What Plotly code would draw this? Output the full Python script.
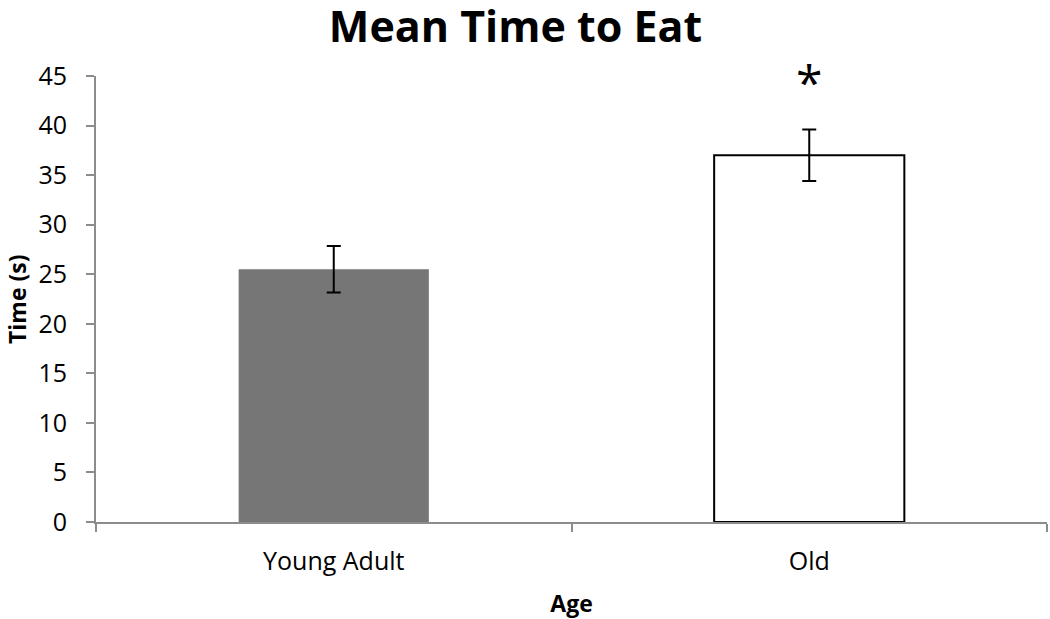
import plotly.graph_objects as go

categories = ["Young Adult", "Old"]
means = [25.5, 37.0]
errors = [2.35, 2.6]
fill_colors = ["#767676", "#ffffff"]
line_colors = ["#767676", "#000000"]
sig_label = "*"
sig_y = 44.4
x_title = "Age"
y_title = "Time (s)"
chart_title = "Mean Time to Eat"

FONT = "'Open Sans', sans-serif"

fig = go.Figure()
fig.add_trace(go.Bar(
    x=categories, y=means,
    width=0.4,
    marker=dict(color=fill_colors, line=dict(color=line_colors, width=[0, 2])),
    error_y=dict(type="data", array=errors, color="black", thickness=2, width=7),
    showlegend=False,
))
fig.add_annotation(x=categories[1], y=sig_y, text=sig_label, showarrow=False,
                   font=dict(size=48, color="black", family=FONT), yanchor="middle")
# y-axis title placed as rotated annotation for exact placement
fig.add_annotation(xref="paper", yref="paper", x=0, y=0.5, xshift=-79, xanchor="center", yanchor="middle",
                   text=f"<b>{y_title}</b>", textangle=-90, showarrow=False,
                   font=dict(size=23, color="black", family=FONT))

fig.update_layout(
    width=1050, height=619,
    paper_bgcolor="white", plot_bgcolor="white",
    margin=dict(l=96, r=3, t=76, b=97, autoexpand=False),
    title=dict(text=f"<b>{chart_title}</b>", x=0.491, xanchor="center", y=0.956, yanchor="middle",
               font=dict(size=43, color="black", family=FONT)),
    font=dict(family=FONT, color="black", size=24),
    xaxis=dict(
        type="category", range=[-0.5, 1.5], automargin=False,
        showline=True, linecolor="#8c8c8c", linewidth=2,
        ticks="outside", ticklen=8, tickcolor="#8c8c8c", tickwidth=2,
        tickson="boundaries", showgrid=False, ticklabelstandoff=16,
        tickfont=dict(size=25, family=FONT),
        title=dict(text=f"<b>{x_title}</b>", font=dict(size=23, family=FONT), standoff=26),
    ),
    yaxis=dict(
        range=[0, 45], dtick=5, automargin=False,
        showline=True, linecolor="#8c8c8c", linewidth=2,
        ticks="outside", ticklen=8, tickcolor="#8c8c8c", tickwidth=2,
        showgrid=False, zeroline=False, ticklabelstandoff=14,
        tickfont=dict(size=25, family=FONT),
    ),
)

fig.write_html("out.html", config={"displayModeBar": False},
               post_script="document.body.style.margin='0';")
